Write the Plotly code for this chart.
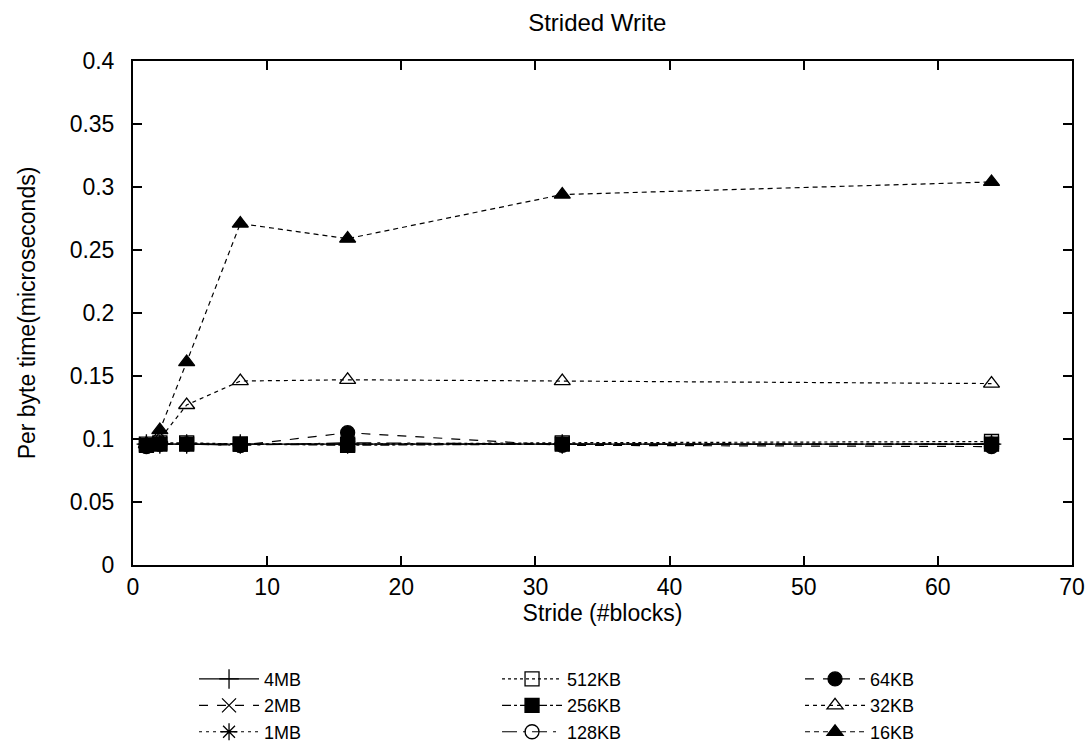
import plotly.graph_objects as go

stride = [1, 2, 4, 8, 16, 32, 64]

s_4MB   = [0.096, 0.096, 0.096, 0.096, 0.096, 0.096, 0.096]
s_2MB   = [0.096, 0.096, 0.096, 0.096, 0.096, 0.096, 0.096]
s_1MB   = [0.096, 0.096, 0.096, 0.096, 0.096, 0.096, 0.096]
s_512KB = [0.096, 0.097, 0.097, 0.096, 0.096, 0.097, 0.098]
s_256KB = [0.095, 0.096, 0.096, 0.096, 0.095, 0.096, 0.096]
s_128KB = [0.095, 0.096, 0.096, 0.095, 0.097, 0.096, 0.096]
s_64KB  = [0.094, 0.096, 0.096, 0.095, 0.105, 0.095, 0.094]
s_32KB  = [0.096, 0.100, 0.127, 0.146, 0.147, 0.146, 0.144]
s_16KB  = [0.096, 0.107, 0.161, 0.271, 0.259, 0.294, 0.304]

series = [
    ("4MB", s_4MB, "solid", "cross-thin"),
    ("512KB", s_512KB, "dot", "square-open"),
    ("64KB", s_64KB, "dash", "circle"),
    ("2MB", s_2MB, "dash", "x-thin"),
    ("256KB", s_256KB, "dashdot", "square"),
    ("32KB", s_32KB, "4px,4px", "triangle-up-open"),
    ("1MB", s_1MB, "3px,4px", "asterisk-open"),
    ("128KB", s_128KB, "longdashdot", "circle-open"),
    ("16KB", s_16KB, "5px,4px", "triangle-up"),
]

fig = go.Figure()
for name, vals, dash, sym in series:
    fig.add_trace(go.Scatter(
        x=stride, y=vals, name=name, mode="lines+markers",
        line=dict(color="black", width=1.2, dash=dash),
        marker=dict(symbol=sym, size=14, color="black",
                    line=dict(color="black", width=1.3)),
    ))

font = "Liberation Sans, Arial, sans-serif"
axis_common = dict(
    showline=True, linecolor="black", linewidth=2, mirror="ticks",
    ticks="inside", ticklen=9, tickwidth=2, tickcolor="black",
    showgrid=False, zeroline=False,
    tickfont=dict(family=font, size=23, color="black"),
)
fig.update_xaxes(range=[0, 70], dtick=10, ticklabelstandoff=0,
                 title=dict(text="Stride (#blocks)", font=dict(family=font, size=23, color="black"), standoff=2),
                 **axis_common)
fig.update_yaxes(range=[0, 0.4], dtick=0.05, ticklabelstandoff=12,
                 title=dict(text="Per byte time(microseconds)", font=dict(family=font, size=23, color="black"), standoff=28),
                 **axis_common)

fig.update_layout(
    width=1086, height=750,
    margin=dict(l=133, r=14, t=61, b=185, autoexpand=False),
    paper_bgcolor="white", plot_bgcolor="white",
    title=dict(text="Strided Write", x=0.55, xanchor="center", y=0.97, yanchor="middle",
               font=dict(family=font, size=24, color="black")),
    legend=dict(orientation="h", x=0.065, xanchor="left", y=-0.19, yanchor="top",
                entrywidth=228, entrywidthmode="pixels", tracegroupgap=0,
                font=dict(family=font, size=18, color="black"),
                itemwidth=60, bgcolor="rgba(0,0,0,0)"),
    showlegend=True,
)

fig.write_html("out.html")
